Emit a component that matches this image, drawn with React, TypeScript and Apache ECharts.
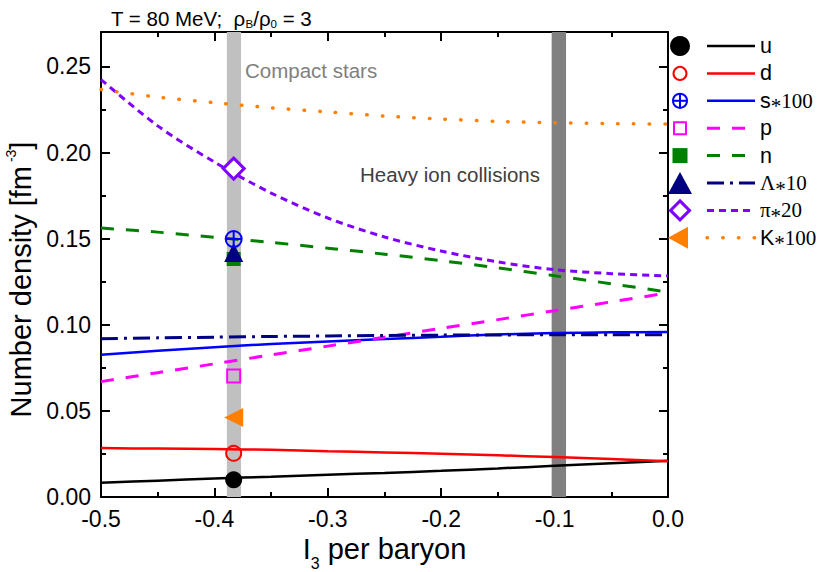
import React, { useEffect, useRef } from "react";
import * as echarts from "echarts";

// ---------- data ----------
const xs = [-0.5, -0.45, -0.4, -0.35, -0.3, -0.25, -0.2, -0.15, -0.1, -0.05, 0];
const uVals = [0.0083, 0.0095, 0.0107, 0.0118, 0.0129, 0.014, 0.0152, 0.0166, 0.0181, 0.0196, 0.021];
const dVals = [0.0284, 0.0281, 0.0278, 0.0274, 0.0266, 0.0259, 0.0251, 0.0242, 0.0232, 0.022, 0.0207];
const sVals = [0.0826, 0.0849, 0.087, 0.0888, 0.0903, 0.0917, 0.093, 0.0944, 0.0952, 0.0956, 0.0958];
const pVals = [0.067, 0.0722, 0.0773, 0.0825, 0.0876, 0.0928, 0.0979, 0.103, 0.1082, 0.1133, 0.1185];
const nVals = [0.1562, 0.1538, 0.1508, 0.1478, 0.1445, 0.141, 0.1372, 0.133, 0.1285, 0.1238, 0.119];
const lamVals = [0.0919, 0.0924, 0.0928, 0.0932, 0.0935, 0.0938, 0.094, 0.0941, 0.0942, 0.0942, 0.0942];
const piVals = [0.2424, 0.2155, 0.1945, 0.1765, 0.162, 0.151, 0.1428, 0.1365, 0.132, 0.1297, 0.1284];
const kVals = [0.2366, 0.2322, 0.229, 0.226, 0.2236, 0.2212, 0.2195, 0.2181, 0.2173, 0.2168, 0.2166];

const markerX = -0.383;
const markerNames = ["u", "d", "p", "n", "Λ*10", "s*100", "π*20", "K*100"];
const markerVals = [0.01, 0.0254, 0.0702, 0.1382, 0.142, 0.1498, 0.1907, 0.0461];

const compactBand = [-0.389, -0.3765];
const hicBand = [-0.1026, -0.0899];

const xTicks = { min: -0.5, max: 0, interval: 0.1 };
const yTicks = { min: 0, max: 0.27, interval: 0.05 };

// ---------- styles ----------
const SANS = "Liberation Sans, Arial, sans-serif";
const SERIF = "Liberation Serif, Times New Roman, serif";
const C = {
  u: "#000000",
  d: "#ff0000",
  s: "#0000ff",
  p: "#ff00ff",
  n: "#008000",
  lam: "#000080",
  pi: "#8000ff",
  k: "#ff8000",
};

const circlePlus = "path://M0,-10A10,10,0,1,1,0,10A10,10,0,1,1,0,-10ZM-10,0L10,0M0,-10L0,10";

function pairs(vals: number[]) {
  return xs.map((x, i) => [x, vals[i]]);
}

const lineDefs = [
  { name: "u", vals: uVals, color: C.u, width: 2.5, dash: "solid" as any, cap: "butt" },
  { name: "d", vals: dVals, color: C.d, width: 2.5, dash: "solid" as any, cap: "butt" },
  { name: "s*100", vals: sVals, color: C.s, width: 2.5, dash: "solid" as any, cap: "butt" },
  { name: "p", vals: pVals, color: C.p, width: 3, dash: [13, 12], cap: "butt" },
  { name: "n", vals: nVals, color: C.n, width: 3, dash: [13, 12], cap: "butt" },
  { name: "Λ*10", vals: lamVals, color: C.lam, width: 3, dash: [17, 6, 3, 6], cap: "butt" },
  { name: "π*20", vals: piVals, color: C.pi, width: 3, dash: [7, 5], cap: "butt" },
  { name: "K*100", vals: kVals, color: C.k, width: 3.5, dash: [0.5, 15.2], cap: "round" },
];

const markerStyles: any[] = [
  { symbol: "circle", size: 17, rotate: 0, item: { color: C.u } },
  { symbol: "circle", size: 15, rotate: 0, item: { color: "rgba(0,0,0,0)", borderColor: C.d, borderWidth: 2 } },
  { symbol: "rect", size: 13, rotate: 0, item: { color: "rgba(0,0,0,0)", borderColor: C.p, borderWidth: 2 } },
  { symbol: "rect", size: 14, rotate: 0, item: { color: C.n } },
  { symbol: "triangle", size: 19, rotate: 0, item: { color: C.lam } },
  { symbol: circlePlus, size: 16, rotate: 0, item: { color: "rgba(0,0,0,0)", borderColor: C.s, borderWidth: 2 } },
  { symbol: "diamond", size: 21, rotate: 0, item: { color: "#ffffff", borderColor: C.pi, borderWidth: 3 } },
  { symbol: "triangle", size: 19, rotate: 90, item: { color: C.k } },
];

// legend (drawn with graphic)
const legendLabels = [
  "{a|u}",
  "{a|d}",
  "{a|s}{c|*}{b|100}",
  "{a|p}",
  "{a|n}",
  "{b|Λ}{c|*}{b|10}",
  "{b|π}{c|*}{b|20}",
  "{a|K}{c|*}{b|100}",
];
const legendKeys = ["u", "d", "s", "p", "n", "lam", "pi", "k"];

function legendSymbol(key: string, cx: number, cy: number): any {
  const col = (C as any)[key];
  switch (key) {
    case "u":
      return { type: "circle", shape: { cx, cy, r: 10 }, style: { fill: col } };
    case "d":
      return { type: "circle", shape: { cx, cy, r: 6.5 }, style: { fill: "none", stroke: col, lineWidth: 2 } };
    case "s":
      return {
        type: "group",
        children: [
          { type: "circle", shape: { cx, cy, r: 7 }, style: { fill: "none", stroke: col, lineWidth: 2 } },
          { type: "line", shape: { x1: cx - 7, y1: cy, x2: cx + 7, y2: cy }, style: { stroke: col, lineWidth: 2 } },
          { type: "line", shape: { x1: cx, y1: cy - 7, x2: cx, y2: cy + 7 }, style: { stroke: col, lineWidth: 2 } },
        ],
      };
    case "p":
      return { type: "rect", shape: { x: cx - 6, y: cy - 6, width: 12, height: 12 }, style: { fill: "none", stroke: col, lineWidth: 2 } };
    case "n":
      return { type: "rect", shape: { x: cx - 7.5, y: cy - 7.5, width: 15, height: 15 }, style: { fill: col } };
    case "lam":
      return { type: "polygon", shape: { points: [[cx, cy - 11], [cx + 12, cy + 11], [cx - 12, cy + 11]] }, style: { fill: col } };
    case "pi":
      return {
        type: "polygon",
        shape: { points: [[cx, cy - 9.5], [cx + 9.5, cy], [cx, cy + 9.5], [cx - 9.5, cy]] },
        style: { fill: "#fff", stroke: col, lineWidth: 3 },
      };
    default:
      return { type: "polygon", shape: { points: [[cx - 12, cy], [cx + 8, cy - 11], [cx + 8, cy + 11]] }, style: { fill: col } };
  }
}

function buildLegend(): any[] {
  const out: any[] = [];
  legendKeys.forEach((key, i) => {
    const y = 46 + 27.4 * i;
    const ld = lineDefs[i];
    out.push(legendSymbol(key, 680, y));
    out.push({
      type: "line",
      shape: { x1: 707, y1: y, x2: 755, y2: y },
      style: {
        stroke: ld.color,
        lineWidth: ld.width,
        lineDash: ld.dash === "solid" ? null : ld.dash,
        lineCap: ld.cap,
      },
    });
    out.push({
      type: "text",
      x: 760,
      y: y,
      style: {
        text: legendLabels[i],
        align: "left",
        verticalAlign: "middle",
        fill: "#000",
        fontSize: 21,
        fontFamily: SANS,
        rich: {
          a: { fontSize: 21.5, fontFamily: SANS, fill: "#000" },
          b: { fontSize: 21, fontFamily: SERIF, fill: "#000" },
          c: { fontSize: 21, fontFamily: SERIF, fill: "#000", padding: [11, 0, 0, 0] },
        },
      },
    });
  });
  return out.map((g) => ({ ...g, z: 100 }));
}

function axisCommon(showLabel: boolean, fmt: (v: number) => string) {
  return {
    axisLine: { show: true, onZero: false, lineStyle: { color: "#000", width: 2 } },
    axisTick: { show: true, inside: true, length: 9, lineStyle: { color: "#000", width: 2 } },
    minorTick: { show: true, splitNumber: 2, length: 5, lineStyle: { color: "#000", width: 2 } },
    splitLine: { show: false },
    minorSplitLine: { show: false },
    axisLabel: {
      show: showLabel,
      showMaxLabel: false,
      fontSize: 23,
      fontFamily: SANS,
      color: "#000",
      margin: 10,
      formatter: fmt,
    },
  };
}

export default function App() {
  const ref = useRef<HTMLDivElement>(null);

  useEffect(() => {
    if (!ref.current) return;
    const chart = echarts.init(ref.current, undefined, { renderer: "svg" });

    const fx = (v: number) => v.toFixed(1);
    const fy = (v: number) => v.toFixed(2);

    const series: any[] = [
      {
        type: "line",
        name: "bands",
        data: [],
        silent: true,
        z: 0,
        markArea: {
          silent: true,
          data: [
            [{ xAxis: compactBand[0], itemStyle: { color: "#c0c0c0", opacity: 1 } }, { xAxis: compactBand[1] }],
            [{ xAxis: hicBand[0], itemStyle: { color: "#808080", opacity: 1 } }, { xAxis: hicBand[1] }],
          ],
        },
      },
    ];

    lineDefs.forEach((ld) => {
      series.push({
        type: "line",
        name: ld.name,
        data: pairs(ld.vals),
        symbol: "none",
        smooth: 0.3,
        z: 2,
        lineStyle: { color: ld.color, width: ld.width, type: ld.dash, cap: ld.cap },
      });
    });

    markerNames.forEach((nm, i) => {
      const ms = markerStyles[i];
      series.push({
        type: "scatter",
        name: nm + " marker",
        data: [[markerX, markerVals[i]]],
        symbol: ms.symbol,
        symbolSize: ms.size,
        symbolRotate: ms.rotate,
        itemStyle: { ...ms.item, opacity: 1 },
        z: 3 + i * 0.01,
      });
    });

    const xBase = axisCommon(true, fx);

    const option: any = {
      animation: false,
      backgroundColor: "#ffffff",
      grid: { left: 101, right: 150, top: 32, bottom: 75, outerBoundsMode: "none", containLabel: false },
      xAxis: [
        {
          type: "value",
          position: "bottom",
          ...xTicks,
          ...xBase,
          axisLabel: { ...xBase.axisLabel, showMaxLabel: true },
          name: "I{sub|3} per baryon",
          nameLocation: "middle",
          nameGap: 26,
          nameTextStyle: {
            fontSize: 29,
            fontFamily: SANS,
            color: "#000",
            rich: { sub: { fontSize: 16, fontFamily: SANS, color: "#000", padding: [28, 0, 0, 0] } },
          },
        },
        {
          type: "value",
          position: "top",
          ...xTicks,
          ...axisCommon(false, fx),
        },
      ],
      yAxis: [
        {
          type: "value",
          position: "left",
          ...yTicks,
          ...axisCommon(true, fy),
          name: "Number density [fm{sup| -3}]",
          nameLocation: "middle",
          nameGap: 55,
          nameTextStyle: {
            fontSize: 29,
            fontFamily: SANS,
            color: "#000",
            padding: [0, 30, 0, 0],
            rich: { sup: { fontSize: 14, fontFamily: SANS, color: "#000", padding: [0, 0, 20, 0] } },
          },
        },
        {
          type: "value",
          position: "right",
          ...yTicks,
          ...axisCommon(false, fy),
        },
      ],
      series,
      graphic: [
        {
          type: "text",
          x: 111,
          y: 18,
          z: 100,
          style: {
            text: "T = 80 MeV;  ρ{s|B}/ρ{s|0} = 3",
            align: "left",
            verticalAlign: "middle",
            fill: "#000",
            fontSize: 20.5,
            fontFamily: SANS,
            rich: { s: { fontSize: 11.5, fontFamily: SANS, fill: "#000", padding: [12, 0, 0, 0] } },
          },
        },
        {
          type: "text",
          x: 245,
          y: 70,
          z: 50,
          style: { text: "Compact stars", fill: "#808080", fontSize: 20.5, fontFamily: SANS, align: "left", verticalAlign: "middle" },
        },
        {
          type: "text",
          x: 360,
          y: 174,
          z: 50,
          style: { text: "Heavy ion collisions", fill: "#404040", fontSize: 20.5, fontFamily: SANS, align: "left", verticalAlign: "middle" },
        },
        ...buildLegend(),
      ],
    };

    chart.setOption(option);
    return () => chart.dispose();
  }, []);

  return <div ref={ref} style={{ position: "fixed", left: 0, top: 0, width: 818, height: 572 }} />;
}
